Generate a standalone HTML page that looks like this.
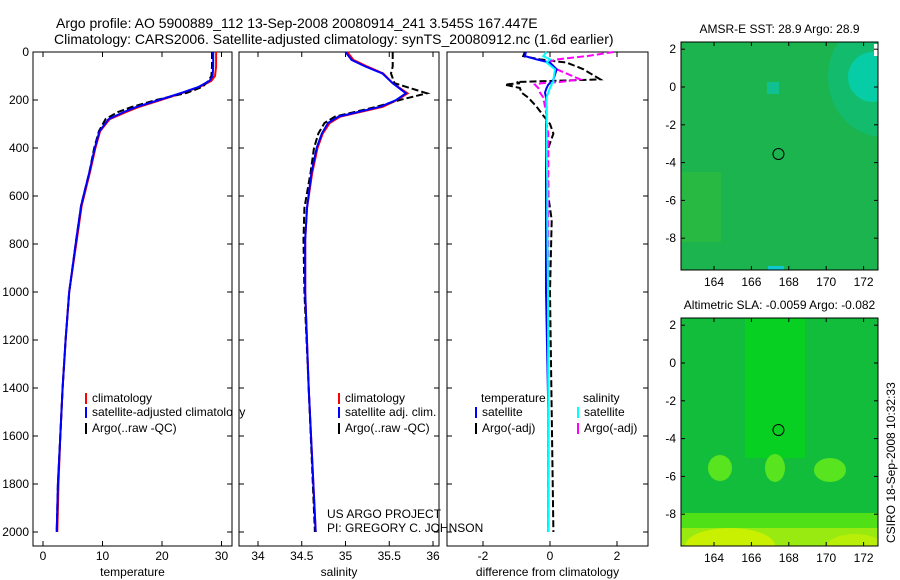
<!DOCTYPE html>
<html><head><meta charset="utf-8"><style>
body{margin:0;background:#fff;}
svg{display:block;font-family:"Liberation Sans",sans-serif;}
</style></head><body>
<svg id="fig" width="900" height="580" viewBox="0 0 900 580" xmlns="http://www.w3.org/2000/svg">
<rect width="900" height="580" fill="#fff"/>
<text x="56" y="28" font-size="14">Argo profile: AO 5900889_112 13-Sep-2008 20080914_241 3.545S 167.447E</text>
<text x="54" y="44" font-size="14">Climatology: CARS2006. Satellite-adjusted climatology: synTS_20080912.nc (1.6d earlier)</text>
<g id="plots"></g>
<text x="327" y="518" font-size="12">US ARGO PROJECT</text>
<text x="327" y="532" font-size="12">PI: GREGORY C. JOHNSON</text>
<text transform="translate(895,543) rotate(-90)" font-size="12">CSIRO 18-Sep-2008 10:32:33</text>
</svg>
<script>
// ---- data ----
const depthT = [0,60,100,120,145,170,200,230,250,280,330,400,500,640,780,1000,1200,1400,1600,1800,2000];
const tempClim = [29.1,29.1,28.9,28.3,26.4,23.5,19.8,16.0,14.0,11.2,9.6,8.8,7.9,6.5,5.7,4.4,3.8,3.3,2.9,2.6,2.4];
const tempSat = [28.6,28.6,28.5,28.0,26.2,23.3,19.5,15.6,13.6,11.0,9.5,8.7,7.8,6.4,5.6,4.4,3.8,3.3,2.9,2.5,2.3];
const tempArgo = [28.4,28.4,28.3,27.8,26.8,24.2,19.0,14.8,12.6,10.5,9.4,8.6,7.8,6.4,5.6,4.4,3.8,3.3,2.9,2.5,2.3];
const depthS = [0,33,61,89,130,172,200,228,269,296,339,400,504,650,782,1000,1400,2000];
const salClim = [35.02,35.09,35.25,35.43,35.54,35.71,35.59,35.43,34.94,34.82,34.74,34.68,34.62,34.56,34.54,34.54,34.58,34.66];
const salSat = [35.00,35.07,35.23,35.42,35.54,35.69,35.58,35.40,34.92,34.80,34.73,34.67,34.61,34.56,34.54,34.54,34.58,34.66];
const salArgo = [35.54,35.54,35.54,35.52,35.56,35.93,35.62,35.36,34.88,34.76,34.69,34.64,34.60,34.53,34.52,34.53,34.58,34.65];
const depthD = [0,17,31,44,72,114,125,130,136,150,169,190,228,265,300,340,420,550,600,700,1000,1500,2000];
const dTsat = [-0.72,-0.75,-0.4,0,0.2,0.1,0.05,0,-0.05,-0.1,-0.15,-0.12,-0.1,-0.1,-0.12,-0.12,-0.12,-0.12,-0.12,-0.12,-0.12,-0.05,-0.05];
const dSsat = [-0.1,-0.2,0,-0.1,0.15,0.1,0.1,0.05,0.05,0.0,-0.05,-0.1,-0.1,-0.1,-0.1,-0.1,-0.1,-0.08,-0.08,-0.08,-0.06,-0.05,-0.05];
const dTargo = [-0.75,-0.8,-0.3,0.5,1.0,1.5,-1.0,-0.9,-1.35,-0.9,-0.85,-0.65,-0.4,-0.2,0,0.1,-0.1,-0.05,-0.05,0.05,0.0,0.05,0.1];
const dSargo = [1.9,1.1,0.2,-0.1,0.2,0.9,0.3,-0.25,-0.45,-0.35,-0.3,-0.2,-0.15,-0.1,-0.1,-0.05,-0.05,-0.05,-0.05,-0.05,-0.05,-0.05,-0.05];
const depthTicks = [0,200,400,600,800,1000,1200,1400,1600,1800,2000];
const tempTicks = [0,10,20,30];
const salTicks = [34,34.5,35,35.5,36];
const diffTicks = [-2,0,2];
const lonTicks = [164,166,168,170,172];
const latTicks = [2,0,-2,-4,-6,-8];
const argoLon = 167.447, argoLat = -3.545;

const NS='http://www.w3.org/2000/svg';
const g=document.getElementById('plots');
function mk(tag,attrs,parent){const e=document.createElementNS(NS,tag);for(const k in attrs)e.setAttribute(k,attrs[k]);(parent||g).appendChild(e);return e;}
const yD = d => 52 + d*0.24;
const xT = t => 43 + t*5.95;
const xS = s => 258 + (s-34)*87.5;
const xDf = v => 550 + v*33.5;

function line(xs,ds,xf,color,dash,name){
  const pts = xs.map((v,i)=>xf(v).toFixed(1)+','+yD(ds[i]).toFixed(1)).join(' ');
  const p = mk('polyline',{points:pts,fill:'none',stroke:color,'stroke-width':2});
  if(dash) p.setAttribute('stroke-dasharray',dash);
  
  
}
function panel(x0,x1,ticks,xf,label,name,showY){
  const r = mk('rect',{x:x0,y:52,width:x1-x0,height:494,fill:'none',stroke:'#000','stroke-width':1});
  
  
  depthTicks.forEach(d=>{
    mk('line',{x1:x0,x2:x0+5,y1:yD(d),y2:yD(d),stroke:'#000'});
    mk('line',{x1:x1-5,x2:x1,y1:yD(d),y2:yD(d),stroke:'#000'});
    if(showY){const t=mk('text',{x:x0-4,y:yD(d)+4,'font-size':12,'text-anchor':'end'});t.textContent=d;
      
      }
  });
  ticks.forEach(v=>{
    const x=xf(v);
    mk('line',{x1:x,x2:x,y1:546,y2:541,stroke:'#000'});
    mk('line',{x1:x,x2:x,y1:52,y2:57,stroke:'#000'});
    const t=mk('text',{x:x,y:560,'font-size':12,'text-anchor':'middle'});t.textContent=v;
    
    
  });
  const lt=mk('text',{x:(x0+x1)/2,y:576,'font-size':12,'text-anchor':'middle'});lt.textContent=label;
  
  
}
panel(33,232,tempTicks,xT,'temperature','temperature-panel',true);
panel(239,439,salTicks,xS,'salinity','salinity-panel',false);
panel(447,648,diffTicks,xDf,'difference from climatology','difference-panel',false);

line(tempClim,depthT,xT,'#f00',null,'temp-climatology-line');
line(tempArgo,depthT,xT,'#000','7 3','temp-argo-line');
line(tempSat,depthT,xT,'#00f',null,'temp-satellite-line');
line(salClim,depthS,xS,'#f00',null,'sal-climatology-line');
line(salArgo,depthS,xS,'#000','7 3','sal-argo-line');
line(salSat,depthS,xS,'#00f',null,'sal-satellite-line');
line(dTargo,depthD,xDf,'#000','7 3','temp-argo-diff-line');
line(dSargo,depthD,xDf,'#f0f','7 3','sal-argo-diff-line');
line(dTsat,depthD,xDf,'#00f',null,'temp-satellite-diff-line');
line(dSsat,depthD,xDf,'#0ff',null,'sal-satellite-diff-line');

function legend(x,y,color,text,name){
  mk('rect',{x:x,y:y-9,width:2,height:11,fill:color});
  const t=mk('text',{x:x+7,y:y,'font-size':12});t.textContent=text;
  
  
}
legend(85,402,'#f00','climatology','legend-temp-climatology');
legend(85,416,'#00f','satellite-adjusted climatology','legend-temp-satellite');
legend(85,432,'#000','Argo(..raw -QC)','legend-temp-argo');
legend(338,402,'#f00','climatology','legend-sal-climatology');
legend(338,416,'#00f','satellite adj. clim.','legend-sal-satellite');
legend(338,432,'#000','Argo(..raw -QC)','legend-sal-argo');
const lh1=mk('text',{x:481,y:402,'font-size':12});lh1.textContent='temperature';


const lh2=mk('text',{x:583,y:402,'font-size':12});lh2.textContent='salinity';


legend(475,416,'#00f','satellite','legend-diff-temp-satellite');
legend(475,432,'#000','Argo(-adj)','legend-diff-temp-argo');
legend(577,416,'#0ff','satellite','legend-diff-sal-satellite');
legend(577,432,'#f0f','Argo(-adj)','legend-diff-sal-argo');
mk('rect',{x:232.5,y:405,width:6,height:14,fill:'#fff'});

// ---- maps ----
const defs = mk('defs',{});
function map(top,name,title,draw){
  const L=681,R=878,B=top+228;
  const xLon = lon => 714 + (lon-164)*18.7;
  const latZero = top+45;
  const yLat = lat => latZero - lat*18.9;
  const cp = mk('clipPath',{id:name+'-clip'},defs);
  mk('rect',{x:L,y:top,width:R-L,height:B-top},cp);
  const grp = mk('g',{'clip-path':'url(#'+name+'-clip)'});
  
  
  draw(grp,L,R,top,B,xLon,yLat);
  mk('rect',{x:L,y:top,width:R-L,height:B-top,fill:'none',stroke:'#000'});
  lonTicks.forEach(v=>{const x=xLon(v);mk('line',{x1:x,x2:x,y1:B,y2:B-4,stroke:'#000'});mk('line',{x1:x,x2:x,y1:top,y2:top+4,stroke:'#000'});
    const t=mk('text',{x:x,y:B+16,'font-size':12,'text-anchor':'middle'});t.textContent=v;
    
    });
  latTicks.forEach(v=>{const y=yLat(v);mk('line',{x1:L,x2:L+4,y1:y,y2:y,stroke:'#000'});mk('line',{x1:R-4,x2:R,y1:y,y2:y,stroke:'#000'});
    const t=mk('text',{x:L-5,y:y+4,'font-size':12,'text-anchor':'end'});t.textContent=v;
    
    });
  const c=mk('circle',{cx:xLon(argoLon),cy:yLat(argoLat),r:5.5,fill:'none',stroke:'#000'});
  
  
  const tt=mk('text',{x:(L+R)/2,y:top-9,'font-size':12,'text-anchor':'middle'});tt.textContent=title;
  
  
}
map(42,'sst-map','AMSR-E SST: 28.9 Argo: 28.9',(grp,L,R,T,B)=>{
  mk('rect',{x:L,y:T,width:R-L,height:B-T,fill:'#1cb44e'},grp);
  mk('ellipse',{cx:R+5,cy:T+35,rx:55,ry:60,fill:'#10bd7a',opacity:0.7},grp);
  mk('ellipse',{cx:R-5,cy:T+35,rx:25,ry:25,fill:'#07cfac',opacity:0.9},grp);
  mk('rect',{x:L,y:T+130,width:40,height:70,fill:'#2cbb3c',opacity:0.7},grp);
  mk('rect',{x:767,y:T+40,width:12,height:12,fill:'#10c090'},grp);
  mk('rect',{x:768,y:B-4,width:16,height:4,fill:'#10c8d0'},grp);
  mk('rect',{x:874,y:T+2,width:4,height:12,fill:'#fff'},grp);
});
map(318,'sla-map','Altimetric SLA: -0.0059 Argo: -0.082',(grp,L,R,T,B)=>{
  mk('rect',{x:L,y:T,width:R-L,height:B-T,fill:'#12bd3c'},grp);
  mk('rect',{x:745,y:T,width:60,height:140,fill:'#06d41c',opacity:0.8},grp);
  mk('ellipse',{cx:720,cy:T+150,rx:12,ry:13,fill:'#58e41e'},grp);
  mk('ellipse',{cx:775,cy:T+150,rx:10,ry:14,fill:'#58e41e'},grp);
  mk('ellipse',{cx:830,cy:T+152,rx:16,ry:12,fill:'#58e41e'},grp);
  mk('rect',{x:L,y:T+195,width:R-L,height:33,fill:'#50e018'},grp);
  mk('rect',{x:L,y:T+210,width:R-L,height:18,fill:'#98ea10'},grp);
  mk('ellipse',{cx:730,cy:B,rx:45,ry:18,fill:'#c8f000'},grp);
  mk('ellipse',{cx:855,cy:B,rx:28,ry:12,fill:'#b8ee08'},grp);
});
</script>
</body></html>
